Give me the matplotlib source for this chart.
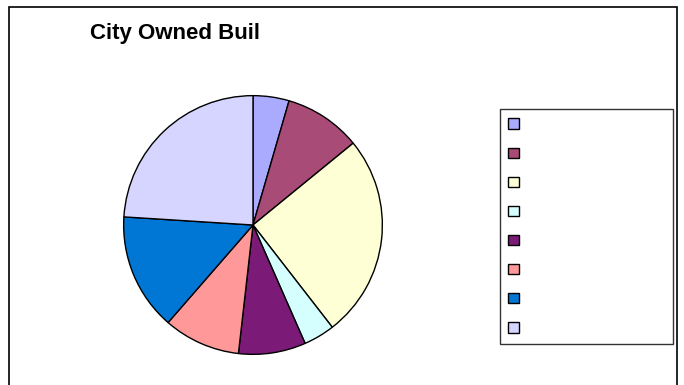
import matplotlib.pyplot as plt
from matplotlib.patches import Rectangle, Patch

# slice shares (percent), clockwise from 12 o'clock
shares = [4.5, 9.6, 25.4, 3.9, 8.4, 9.6, 14.6, 24.0]
colors = ['#AAAAFF', '#A94B77', '#FFFFD5', '#D5FFFF',
          '#7B1A77', '#FF9999', '#0077D5', '#D5D5FF']
legend_labels = [''] * len(shares)
title = 'City Owned Buil'

W, H = 684, 385
fig = plt.figure(figsize=(W / 100, H / 100), dpi=100)

# outer chart frame (bottom edge is cut off in the original)
fig.patches.append(Rectangle((9 / W, -0.05), 668 / W, (H - 7) / H + 0.05,
                             transform=fig.transFigure, fill=False,
                             edgecolor='black', linewidth=1.2))

fig.text(90 / W, 1 - 33 / H, title, fontsize=16, fontweight='bold',
         family='Liberation Sans', va='center', ha='left')

# pie centred at (253, 225) px, radius 130 px
cx, cy, r = 253, 225, 130
ax = fig.add_axes([(cx - r) / W, (H - cy - r) / H, 2 * r / W, 2 * r / H])
ax.pie(shares, colors=colors, startangle=90, counterclock=False,
       wedgeprops=dict(edgecolor='black', linewidth=1))
ax.set_xlim(-1.005, 1.005)
ax.set_ylim(-1.005, 1.005)
ax.axis('off')

handles = [Patch(facecolor=c, edgecolor='black', linewidth=1) for c in colors]
leg = fig.legend(handles, legend_labels, loc='upper left',
                 bbox_to_anchor=(500 / W, 1 - 109 / H, 173 / W, 0.0),
                 mode='expand', fontsize=10, frameon=True, fancybox=False,
                 edgecolor='black', handlelength=0.75, handleheight=0.75,
                 labelspacing=1.09, borderpad=0.6, handletextpad=0.5,
                 borderaxespad=0)
leg.get_frame().set_linewidth(1)

fig.savefig('out.png', dpi=100)
